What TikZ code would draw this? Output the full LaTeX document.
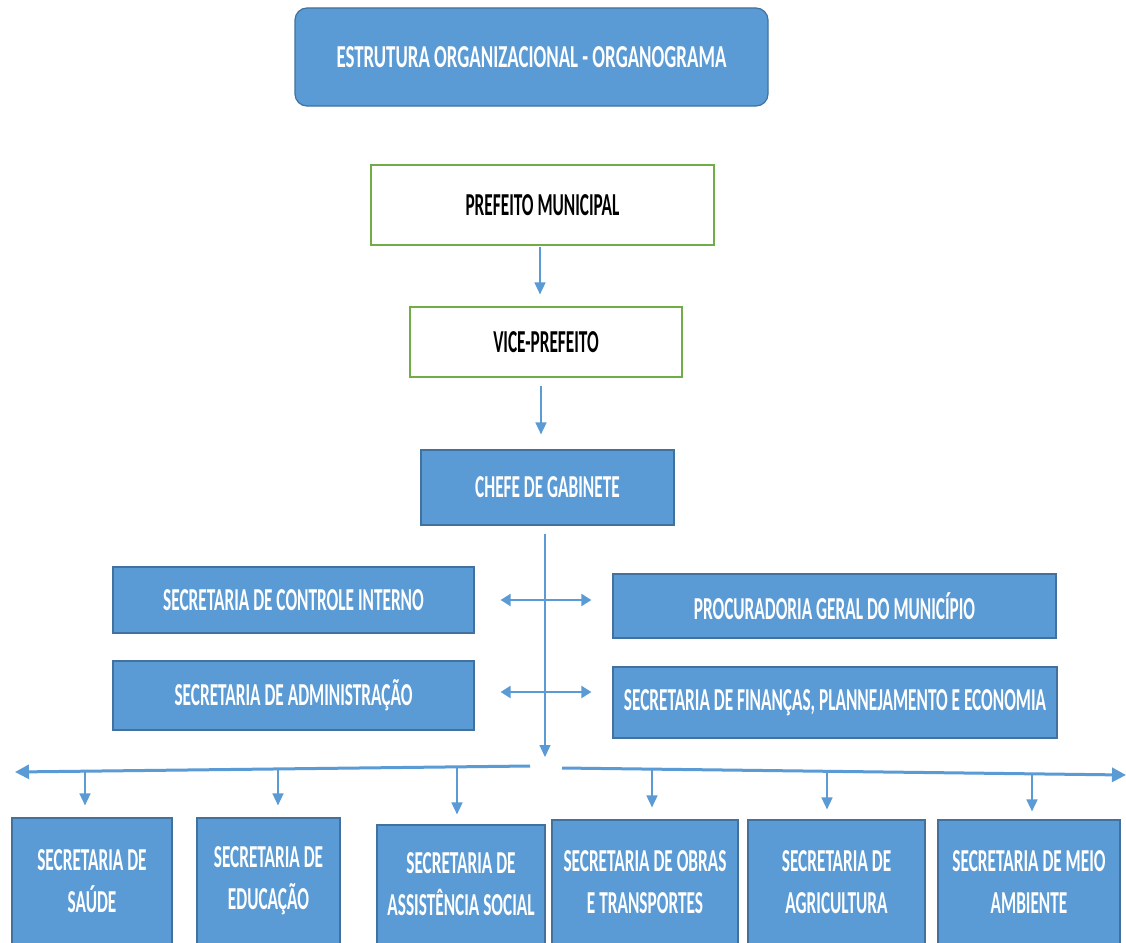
\documentclass[tikz,border=0pt]{standalone}
\usepackage{fontspec}
\setmainfont{Carlito}[FakeStretch=0.54]
\newfontfamily\titlefont{Carlito}[FakeStretch=0.59]
\usetikzlibrary{arrows.meta}
\definecolor{boxblue}{HTML}{5B9BD5}
\definecolor{boxedge}{HTML}{41719C}
\definecolor{boxgreen}{HTML}{70AD47}
\definecolor{arrowblue}{HTML}{5B9BD5}
\begin{document}
\begin{tikzpicture}[x=1pt,y=-1pt,
  bluebox/.style={draw=boxedge, fill=boxblue, line width=1.2pt, inner sep=0pt, text=white},
  greenbox/.style={draw=boxgreen, fill=white, line width=1.2pt, inner sep=0pt, text=black},
  lbl/.style={font=\bfseries\fontsize{32}{42}\selectfont, align=center},
  conn/.style={draw=arrowblue, line width=1.6pt, -{Triangle[length=12pt,width=11pt]}},
  busconn/.style={draw=arrowblue, line width=3pt, -{Triangle[length=14pt,width=14pt]}},
  dconn/.style={draw=arrowblue, line width=2.2pt, {Triangle[length=10pt,width=12pt]}-{Triangle[length=10pt,width=12pt]}},
]
\useasboundingbox (0,0) rectangle (1126,942);
\clip (0,0) rectangle (1126,942);
\fill[white] (0,0) rectangle (1126,942);

\node[bluebox, lbl, font=\titlefont\bfseries\fontsize{32}{42}\selectfont, rounded corners=12pt, minimum width=473pt, minimum height=98pt] (title) at (531.5,57) {ESTRUTURA ORGANIZACIONAL - ORGANOGRAMA};
\node[greenbox, lbl, minimum width=343pt, minimum height=80pt] (pref) at (542.5,205) {PREFEITO MUNICIPAL};
\node[greenbox, lbl, minimum width=272pt, minimum height=70pt] (vice) at (546,342) {VICE-PREFEITO};
\node[bluebox, lbl, minimum width=253pt, minimum height=75pt] (chefe) at (547.5,487.5) {CHEFE DE GABINETE};

\node[bluebox, lbl, minimum width=361pt, minimum height=66pt] (ctrl) at (293.5,600) {SECRETARIA DE CONTROLE INTERNO};
\node[bluebox, lbl, minimum width=443pt, minimum height=64pt] (proc) at (834.5,606) {PROCURADORIA GERAL DO MUNICÍPIO};
\node[bluebox, lbl, minimum width=361pt, minimum height=69pt] (adm) at (293.5,695.5) {SECRETARIA DE ADMINISTRAÇÃO};
\node[bluebox, lbl, minimum width=444pt, minimum height=71pt] (fin) at (835,702.5) {SECRETARIA DE FINANÇAS, PLANNEJAMENTO E ECONOMIA};

\node[bluebox, lbl, minimum width=160pt, minimum height=126pt] (saude) at (92,881) {SECRETARIA DE\\SAÚDE};
\node[bluebox, lbl, minimum width=143pt, minimum height=126pt] (edu) at (268.5,881) {SECRETARIA DE\\EDUCAÇÃO};
\node[bluebox, lbl, minimum width=168pt, minimum height=119pt] (assist) at (461,884.5) {SECRETARIA DE\\ASSISTÊNCIA SOCIAL};
\node[bluebox, lbl, minimum width=186pt, minimum height=124pt] (obras) at (645,882) {SECRETARIA DE OBRAS\\E TRANSPORTES};
\node[bluebox, lbl, minimum width=177pt, minimum height=124pt] (agri) at (836.5,882) {SECRETARIA DE\\AGRICULTURA};
\node[bluebox, lbl, minimum width=182pt, minimum height=124pt] (meio) at (1029,882) {SECRETARIA DE MEIO\\AMBIENTE};

\draw[conn, shorten <=1pt, shorten >=12pt] (pref.south -| 540,0) -- (vice.north -| 540,0);
\draw[conn, shorten <=8pt, shorten >=15pt] (vice.south -| 541,0) -- (chefe.north -| 541,0);

\coordinate (trunk) at (545,757);
\draw[conn, line width=1.2pt, shorten <=8pt] (chefe.south -| trunk) -- (trunk);

\draw[dconn, shorten <=26pt, shorten >=21pt] (ctrl.east) -- (ctrl.east -| proc.west);
\draw[dconn, shorten <=26pt, shorten >=21pt] (adm.east |- 0,692) -- (fin.west |- 0,692);

\coordinate (hl0) at (530,766);
\coordinate (hl1) at (15,772);
\coordinate (hr0) at (562,768);
\coordinate (hr1) at (1126,775);
\draw[busconn] (hl0) -- (hl1);
\draw[busconn] (hr0) -- (hr1);

\coordinate (b1) at (85,771);
\coordinate (b2) at (278,769);
\coordinate (b3) at (457,767);
\coordinate (b4) at (652,769);
\coordinate (b5) at (827,771);
\coordinate (b6) at (1032,774);
\draw[conn, shorten >=12pt] (b1) -- (b1 |- saude.north);
\draw[conn, shorten >=12pt] (b2) -- (b2 |- edu.north);
\draw[conn, shorten >=10pt] (b3) -- (b3 |- assist.north);
\draw[conn, shorten >=12pt] (b4) -- (b4 |- obras.north);
\draw[conn, shorten >=10pt] (b5) -- (b5 |- agri.north);
\draw[conn, shorten >=8pt] (b6) -- (b6 |- meio.north);
\end{tikzpicture}
\end{document}
